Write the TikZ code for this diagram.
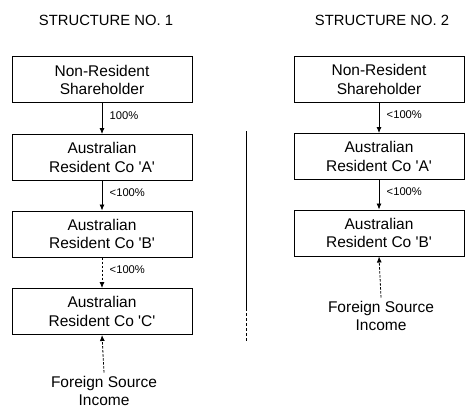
\documentclass[tikz,border=0pt]{standalone}
\usepackage{fontspec}
\setmainfont{Liberation Sans}[Ligatures=TeXOff]
\usetikzlibrary{arrows.meta}
\begin{document}
\begin{tikzpicture}[x=1pt,y=-1pt,
  box/.style={draw,line width=1pt,minimum height=46pt,inner sep=0pt,align=center,font=\fontsize{15.5}{18.5}\selectfont},
  ttl/.style={font=\fontsize{14.8}{16}\selectfont},
  pct/.style={font=\fontsize{11.2}{12}\selectfont,anchor=west},
  lbl/.style={align=center,font=\fontsize{15.5}{18.5}\selectfont},
  conn/.style={line width=0.8pt,-{Latex[length=6pt,width=5pt]}},
  dconn/.style={conn,dashed,dash pattern=on 2.5pt off 1.5pt}]
\useasboundingbox (0,0) rectangle (465,409);
% Structure 1
\node[ttl] (t1) at (106,20) {STRUCTURE NO. 1};
\node[box,minimum width=180pt] (a1) at (102,80) {Non-Resident\\Shareholder};
\node[box,minimum width=180pt] (b1) at (102,157.5) {Australian\\Resident Co 'A'};
\node[box,minimum width=180pt] (c1) at (102,234) {Australian\\Resident Co 'B'};
\node[box,minimum width=180pt] (d1) at (102,311.5) {Australian\\Resident Co 'C'};
\node[lbl] (f1) at (104,391) {Foreign Source\\Income};
\draw[conn] (a1.south) -- node[pct,pos=0.4,xshift=4pt] (p1) {100\%} (b1.north);
\draw[conn] (b1.south) -- node[pct,pos=0.4,xshift=4pt] (p2) {<100\%} (c1.north);
\draw[dconn] (c1.south) -- node[pct,pos=0.4,xshift=4pt] (p3) {<100\%} (d1.north);
\draw[dconn] (f1.north) -- (d1.south);
% divider
\coordinate (v1) at (246,131);
\coordinate (v2) at (246,308);
\coordinate (v3) at (246,341);
\draw[line width=0.6pt] (v1) -- (v2);
\draw[line width=0.6pt,dash pattern=on 3pt off 2pt] (v2) -- (v3);
% Structure 2
\node[ttl] (t2) at (382,20) {STRUCTURE NO. 2};
\node[box,minimum width=170pt] (a2) at (379,79.5) {Non-Resident\\Shareholder};
\node[box,minimum width=170pt] (b2) at (379,156.5) {Australian\\Resident Co 'A'};
\node[box,minimum width=170pt] (c2) at (379,233) {Australian\\Resident Co 'B'};
\node[lbl] (f2) at (381,316) {Foreign Source\\Income};
\draw[conn] (a2.south) -- node[pct,pos=0.4,xshift=4pt] (q1) {<100\%} (b2.north);
\draw[conn] (b2.south) -- node[pct,pos=0.4,xshift=4pt] (q2) {<100\%} (c2.north);
\draw[dconn] (f2.north) -- (c2.south);
\end{tikzpicture}
\end{document}
